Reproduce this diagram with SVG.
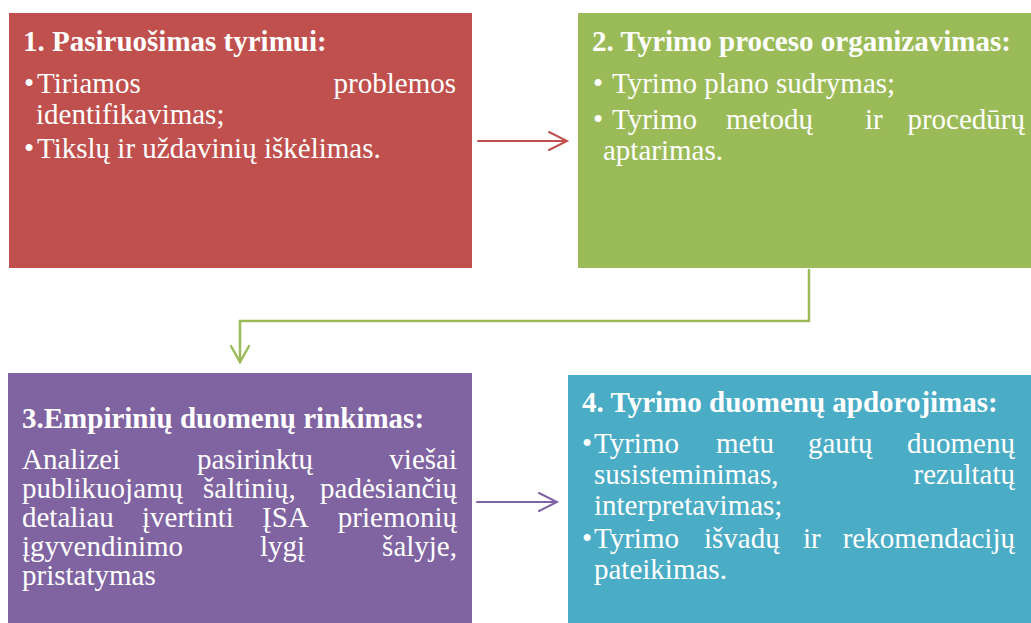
<svg xmlns="http://www.w3.org/2000/svg" width="1031" height="623" viewBox="0 0 1031 623">
<style>
.t{font-family:"Liberation Serif","Times New Roman",serif;font-size:29px;fill:#fff}
.b{font-weight:bold}
.e{text-anchor:end}
.c{fill:none;stroke-linecap:round;stroke-linejoin:miter}
</style>
<rect width="1031" height="623" fill="#fff"/>
<g id="n1">
<rect x="9" y="13" width="463" height="255" fill="#C0504D"/>
<text class="t b" x="23" y="51">1. Pasiruošimas tyrimui:</text>
<text class="t" x="24" y="93">•</text>
<text class="t" x="37" y="93">Tiriamos</text>
<text class="t e" x="456" y="93">problemos</text>
<text class="t" x="36" y="124">identifikavimas;</text>
<text class="t" x="24" y="158">•</text>
<text class="t" x="37" y="158">Tikslų ir uždavinių iškėlimas.</text>
</g>
<g id="n2">
<rect x="578" y="13" width="453" height="255" fill="#9BBB59"/>
<text class="t b" x="592" y="51">2. Tyrimo proceso organizavimas:</text>
<text class="t" x="593" y="93">•</text>
<text class="t" x="612" y="93">Tyrimo plano sudrymas;</text>
<text class="t" x="593" y="129">•</text>
<text class="t" y="129"><tspan x="612">Tyrimo</tspan><tspan x="726">metodų</tspan><tspan x="865">ir</tspan></text>
<text class="t e" x="1025" y="129">procedūrų</text>
<text class="t" x="603" y="160">aptarimas.</text>
</g>
<g id="n3">
<rect x="8" y="373" width="464" height="250" fill="#8064A2"/>
<text class="t b" x="22" y="428">3.Empirinių duomenų rinkimas:</text>
<text class="t" y="469"><tspan x="22">Analizei</tspan><tspan x="197">pasirinktų</tspan></text>
<text class="t e" x="457" y="469">viešai</text>
<text class="t" y="498"><tspan x="22">publikuojamų</tspan><tspan x="203">šaltinių,</tspan></text>
<text class="t e" x="457" y="498">padėsiančių</text>
<text class="t" y="527"><tspan x="22">detaliau</tspan><tspan x="142">įvertinti</tspan><tspan x="262">ĮSA</tspan></text>
<text class="t e" x="457" y="527">priemonių</text>
<text class="t" y="556"><tspan x="22">įgyvendinimo</tspan><tspan x="260">lygį</tspan></text>
<text class="t e" x="457" y="556">šalyje,</text>
<text class="t" x="22" y="585">pristatymas</text>
</g>
<g id="n4">
<rect x="568" y="375" width="463" height="248" fill="#4BACC6"/>
<text class="t b" x="582" y="412">4. Tyrimo duomenų apdorojimas:</text>
<text class="t" x="582" y="453">•</text>
<text class="t" y="453"><tspan x="594">Tyrimo</tspan><tspan x="716">metu</tspan><tspan x="808">gautų</tspan></text>
<text class="t e" x="1015" y="453">duomenų</text>
<text class="t" x="594" y="484">susisteminimas,</text>
<text class="t e" x="1015" y="484">rezultatų</text>
<text class="t" x="594" y="515">interpretavimas;</text>
<text class="t" x="582" y="548">•</text>
<text class="t" y="548"><tspan x="594">Tyrimo</tspan><tspan x="704">išvadų</tspan><tspan x="803">ir</tspan></text>
<text class="t e" x="1015" y="548">rekomendacijų</text>
<text class="t" x="594" y="579">pateikimas.</text>
</g>
<g id="connectors">
<g stroke="#C0504D" stroke-width="2" class="c">
<line x1="478" y1="141" x2="566" y2="141"/>
<polyline points="549,132 567,141 549,150"/>
</g>
<g stroke="#9BBB59" stroke-width="2.5" class="c">
<polyline points="809,270 809,321 240,321 240,361"/>
<polyline points="231,346 240,362 249,346"/>
</g>
<g stroke="#8064A2" stroke-width="2" class="c">
<line x1="477" y1="502" x2="556" y2="502"/>
<polyline points="539,493 557,502 539,511"/>
</g>
</g>
</svg>
